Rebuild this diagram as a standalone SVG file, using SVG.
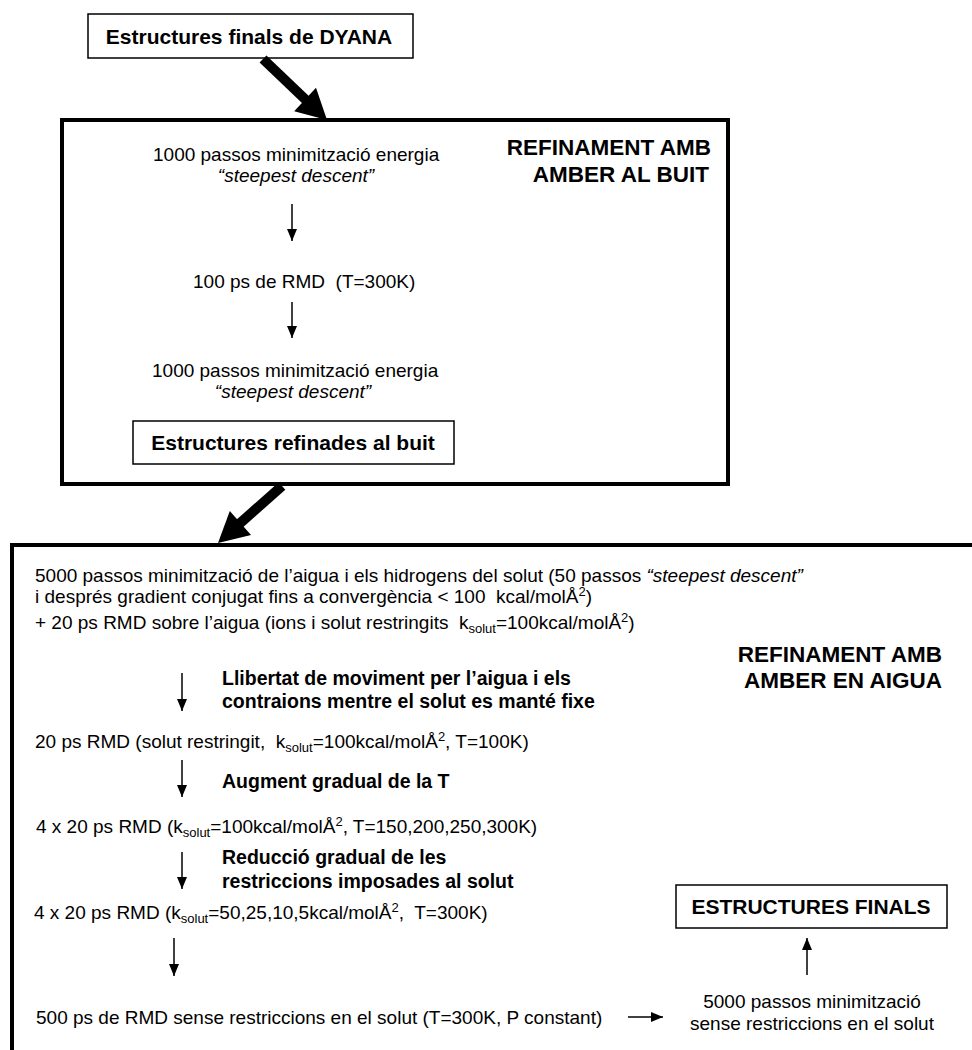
<svg xmlns="http://www.w3.org/2000/svg" width="972" height="1050" viewBox="0 0 972 1050">
<defs>
<style>
text{font-family:"Liberation Sans",Arial,sans-serif;fill:#000;white-space:pre}
.n{font-size:19px}
.b{font-size:19.5px;font-weight:bold}
.h{font-size:22.5px;font-weight:bold}
.t{font-size:21px;font-weight:bold}
.c{text-anchor:middle}
.r{text-anchor:end}
.i{font-style:italic}
.s{font-size:13px}
.box{fill:#fff;stroke:#000;stroke-width:1.5}
.frame{fill:none;stroke:#000;stroke-width:4}
.ar{stroke:#000;stroke-width:1.5;fill:none;marker-end:url(#ah)}
.big{stroke:#000;stroke-width:10;fill:none}
</style>
<marker id="ah" viewBox="0 0 12 10" refX="12" refY="5" markerWidth="12" markerHeight="10" markerUnits="userSpaceOnUse" orient="auto"><path d="M0,0 L12,5 L0,10 z" fill="#000"/></marker>
</defs>
<rect width="972" height="1050" fill="#fff"/>

<g id="node-dyana">
<rect class="box" x="88" y="14" width="325" height="44"/>
<text class="t c" x="249" y="44" font-size="21.5">Estructures finals de DYANA</text>
</g>

<g id="node-buit">
<rect class="frame" x="62" y="120" width="666" height="364"/>
<text class="h r" x="711" y="155">REFINAMENT AMB</text>
<text class="h r" x="709" y="182">AMBER AL BUIT</text>
<text class="n" x="153" y="161">1000 passos minimització energia</text>
<text class="n c i" x="296" y="182">“steepest descent”</text>
<text class="n" x="193" y="288">100 ps de RMD  (T=300K)</text>
<text class="n" x="152" y="377">1000 passos minimització energia</text>
<text class="n c i" x="293" y="398">“steepest descent”</text>
</g>

<g id="node-refinades">
<rect class="box" x="133" y="421" width="321" height="43"/>
<text class="t c" x="293" y="450">Estructures refinades al buit</text>
</g>

<g id="node-aigua">
<path class="frame" d="M12,1052 L12,545 L974,545"/>
<text class="h r" x="942" y="662">REFINAMENT AMB</text>
<text class="h r" x="942" y="688">AMBER EN AIGUA</text>
<text class="n" x="35" y="582">5000 passos minimització de l’aigua i els hidrogens del solut (50 passos <tspan class="i">“steepest descent”</tspan></text>
<text class="n" x="35" y="603">i després gradient conjugat fins a convergència &lt; 100  kcal/molÅ<tspan class="s" dy="-7">2</tspan><tspan dy="7">)</tspan></text>
<text class="n" x="35" y="629">+ 20 ps RMD sobre l’aigua (ions i solut restringits  k<tspan class="s" dy="4">solut</tspan><tspan dy="-4">=100kcal/molÅ</tspan><tspan class="s" dy="-7">2</tspan><tspan dy="7">)</tspan></text>
<text class="b" x="222" y="685">Llibertat de moviment per l’aigua i els</text>
<text class="b" x="222" y="708">contraions mentre el solut es manté fixe</text>
<text class="n" x="35" y="748">20 ps RMD (solut restringit,  k<tspan class="s" dy="4">solut</tspan><tspan dy="-4">=100kcal/molÅ</tspan><tspan class="s" dy="-7">2</tspan><tspan dy="7">, T=100K)</tspan></text>
<text class="b" x="222" y="788">Augment gradual de la T</text>
<text class="n" x="36" y="833">4 x 20 ps RMD (k<tspan class="s" dy="4">solut</tspan><tspan dy="-4">=100kcal/molÅ</tspan><tspan class="s" dy="-7">2</tspan><tspan dy="7">, T=150,200,250,300K)</tspan></text>
<text class="b" x="222" y="864">Reducció gradual de les</text>
<text class="b" x="222" y="888">restriccions imposades al solut</text>
<text class="n" x="34" y="919">4 x 20 ps RMD (k<tspan class="s" dy="4">solut</tspan><tspan dy="-4">=50,25,10,5kcal/molÅ</tspan><tspan class="s" dy="-7">2</tspan><tspan dy="7">,  T=300K)</tspan></text>
<text class="n" x="36" y="1024">500 ps de RMD sense restriccions en el solut (T=300K, P constant)</text>
</g>

<g id="node-minim">
<text class="n c" x="812" y="1008">5000 passos minimització</text>
<text class="n c" x="812" y="1030">sense restriccions en el solut</text>
</g>

<g id="node-finals">
<rect class="box" x="676" y="885" width="271" height="43"/>
<text class="t c" x="811" y="914">ESTRUCTURES FINALS</text>
</g>

<g id="connectors">
<line class="big" x1="263" y1="59" x2="307" y2="101"/>
<polygon points="327,120 294.2,111.2 316,87.8" fill="#000"/>
<line class="big" x1="282" y1="486" x2="238" y2="525"/>
<polygon points="218,543 229.8,511 251,535" fill="#000"/>
<line class="ar" x1="292" y1="204" x2="292" y2="241"/>
<line class="ar" x1="292" y1="302" x2="292" y2="338"/>
<line class="ar" x1="182" y1="673" x2="182" y2="711"/>
<line class="ar" x1="182" y1="760" x2="182" y2="797"/>
<line class="ar" x1="182" y1="852" x2="182" y2="889"/>
<line class="ar" x1="174" y1="938" x2="174" y2="976"/>
<line class="ar" x1="628" y1="1017" x2="663" y2="1017"/>
<line class="ar" x1="807" y1="975" x2="807" y2="938"/>
</g>
</svg>
